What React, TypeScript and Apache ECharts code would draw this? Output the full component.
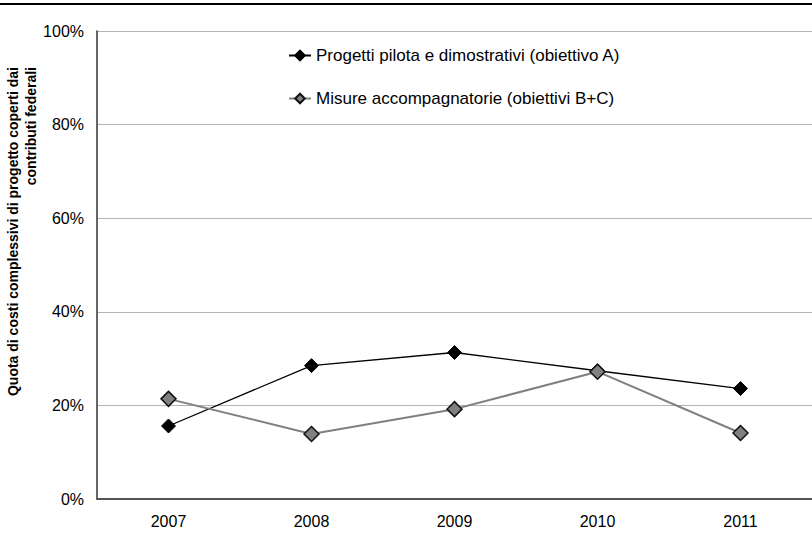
import React, { useEffect, useRef } from "react";
import * as echarts from "echarts";

const years = ["2007", "2008", "2009", "2010", "2011"];
const seriesAName = "Progetti pilota e dimostrativi (obiettivo A)";
const seriesBName = "Misure accompagnatorie (obiettivi B+C)";
const seriesA = [15.6, 28.5, 31.3, 27.4, 23.6];
const seriesB = [21.4, 13.9, 19.2, 27.2, 14.1];
const yTitleLines = ["Quota di costi complessivi di progetto coperti dai", "contributi federali"];

export default function App() {
  const ref = useRef<HTMLDivElement>(null);
  useEffect(() => {
    const chart = echarts.init(ref.current!, null, { renderer: "svg" });
    const font = "'Liberation Sans', Arial, sans-serif";
    chart.setOption({
      animation: false,
      backgroundColor: "#ffffff",
      textStyle: { fontFamily: font },
      grid: { left: 97, right: -4, top: 31, bottom: 58, containLabel: false },
      legend: {
        orient: "vertical",
        left: 283,
        top: 42,
        itemGap: 26,
        itemWidth: 22,
        itemHeight: 12,
        textStyle: { fontSize: 17, color: "#000", fontFamily: font },
        data: [seriesAName, seriesBName],
      },
      xAxis: {
        type: "category",
        data: years,
        boundaryGap: true,
        axisLine: { lineStyle: { color: "#555", width: 2 } },
        axisTick: { show: false },
        axisLabel: { fontSize: 16, color: "#000", margin: 14, fontFamily: font },
      },
      yAxis: {
        type: "value",
        min: 0,
        max: 100,
        interval: 20,
        axisLine: { show: true, lineStyle: { color: "#333", width: 1.5 } },
        axisTick: { show: false },
        splitLine: { lineStyle: { color: "#b4b4b4", width: 1 } },
        axisLabel: { fontSize: 16, color: "#000", margin: 13, formatter: "{value}%", fontFamily: font },
      },
      series: [
        {
          name: seriesAName,
          type: "line",
          data: seriesA,
          symbol: "diamond",
          symbolSize: 14,
          lineStyle: { color: "#000", width: 1.3 },
          itemStyle: { color: "#000", borderColor: "#000", borderWidth: 1 },
          z: 3,
        },
        {
          name: seriesBName,
          type: "line",
          data: seriesB,
          symbol: "diamond",
          symbolSize: 15,
          lineStyle: { color: "#808080", width: 2 },
          itemStyle: { color: "#808080", borderColor: "#111", borderWidth: 1.5 },
          z: 4,
        },
      ],
      graphic: [
        { type: "rect", shape: { x: 0, y: 3, width: 812, height: 2 }, style: { fill: "#000" } },
        {
          type: "text",
          x: 13,
          y: 67,
          rotation: Math.PI / 2,
          style: {
            text: yTitleLines[0],
            font: `bold 14px ${font}`,
            fill: "#000",
            align: "right",
            verticalAlign: "middle",
          },
        },
        {
          type: "text",
          x: 31,
          y: 67,
          rotation: Math.PI / 2,
          style: {
            text: yTitleLines[1],
            font: `bold 14px ${font}`,
            fill: "#000",
            align: "right",
            verticalAlign: "middle",
          },
        },
      ],
    });
    return () => chart.dispose();
  }, []);
  return (
    <div
      ref={ref}
      style={{ position: "absolute", left: 0, top: 0, width: 812, height: 557 }}
    />
  );
}
